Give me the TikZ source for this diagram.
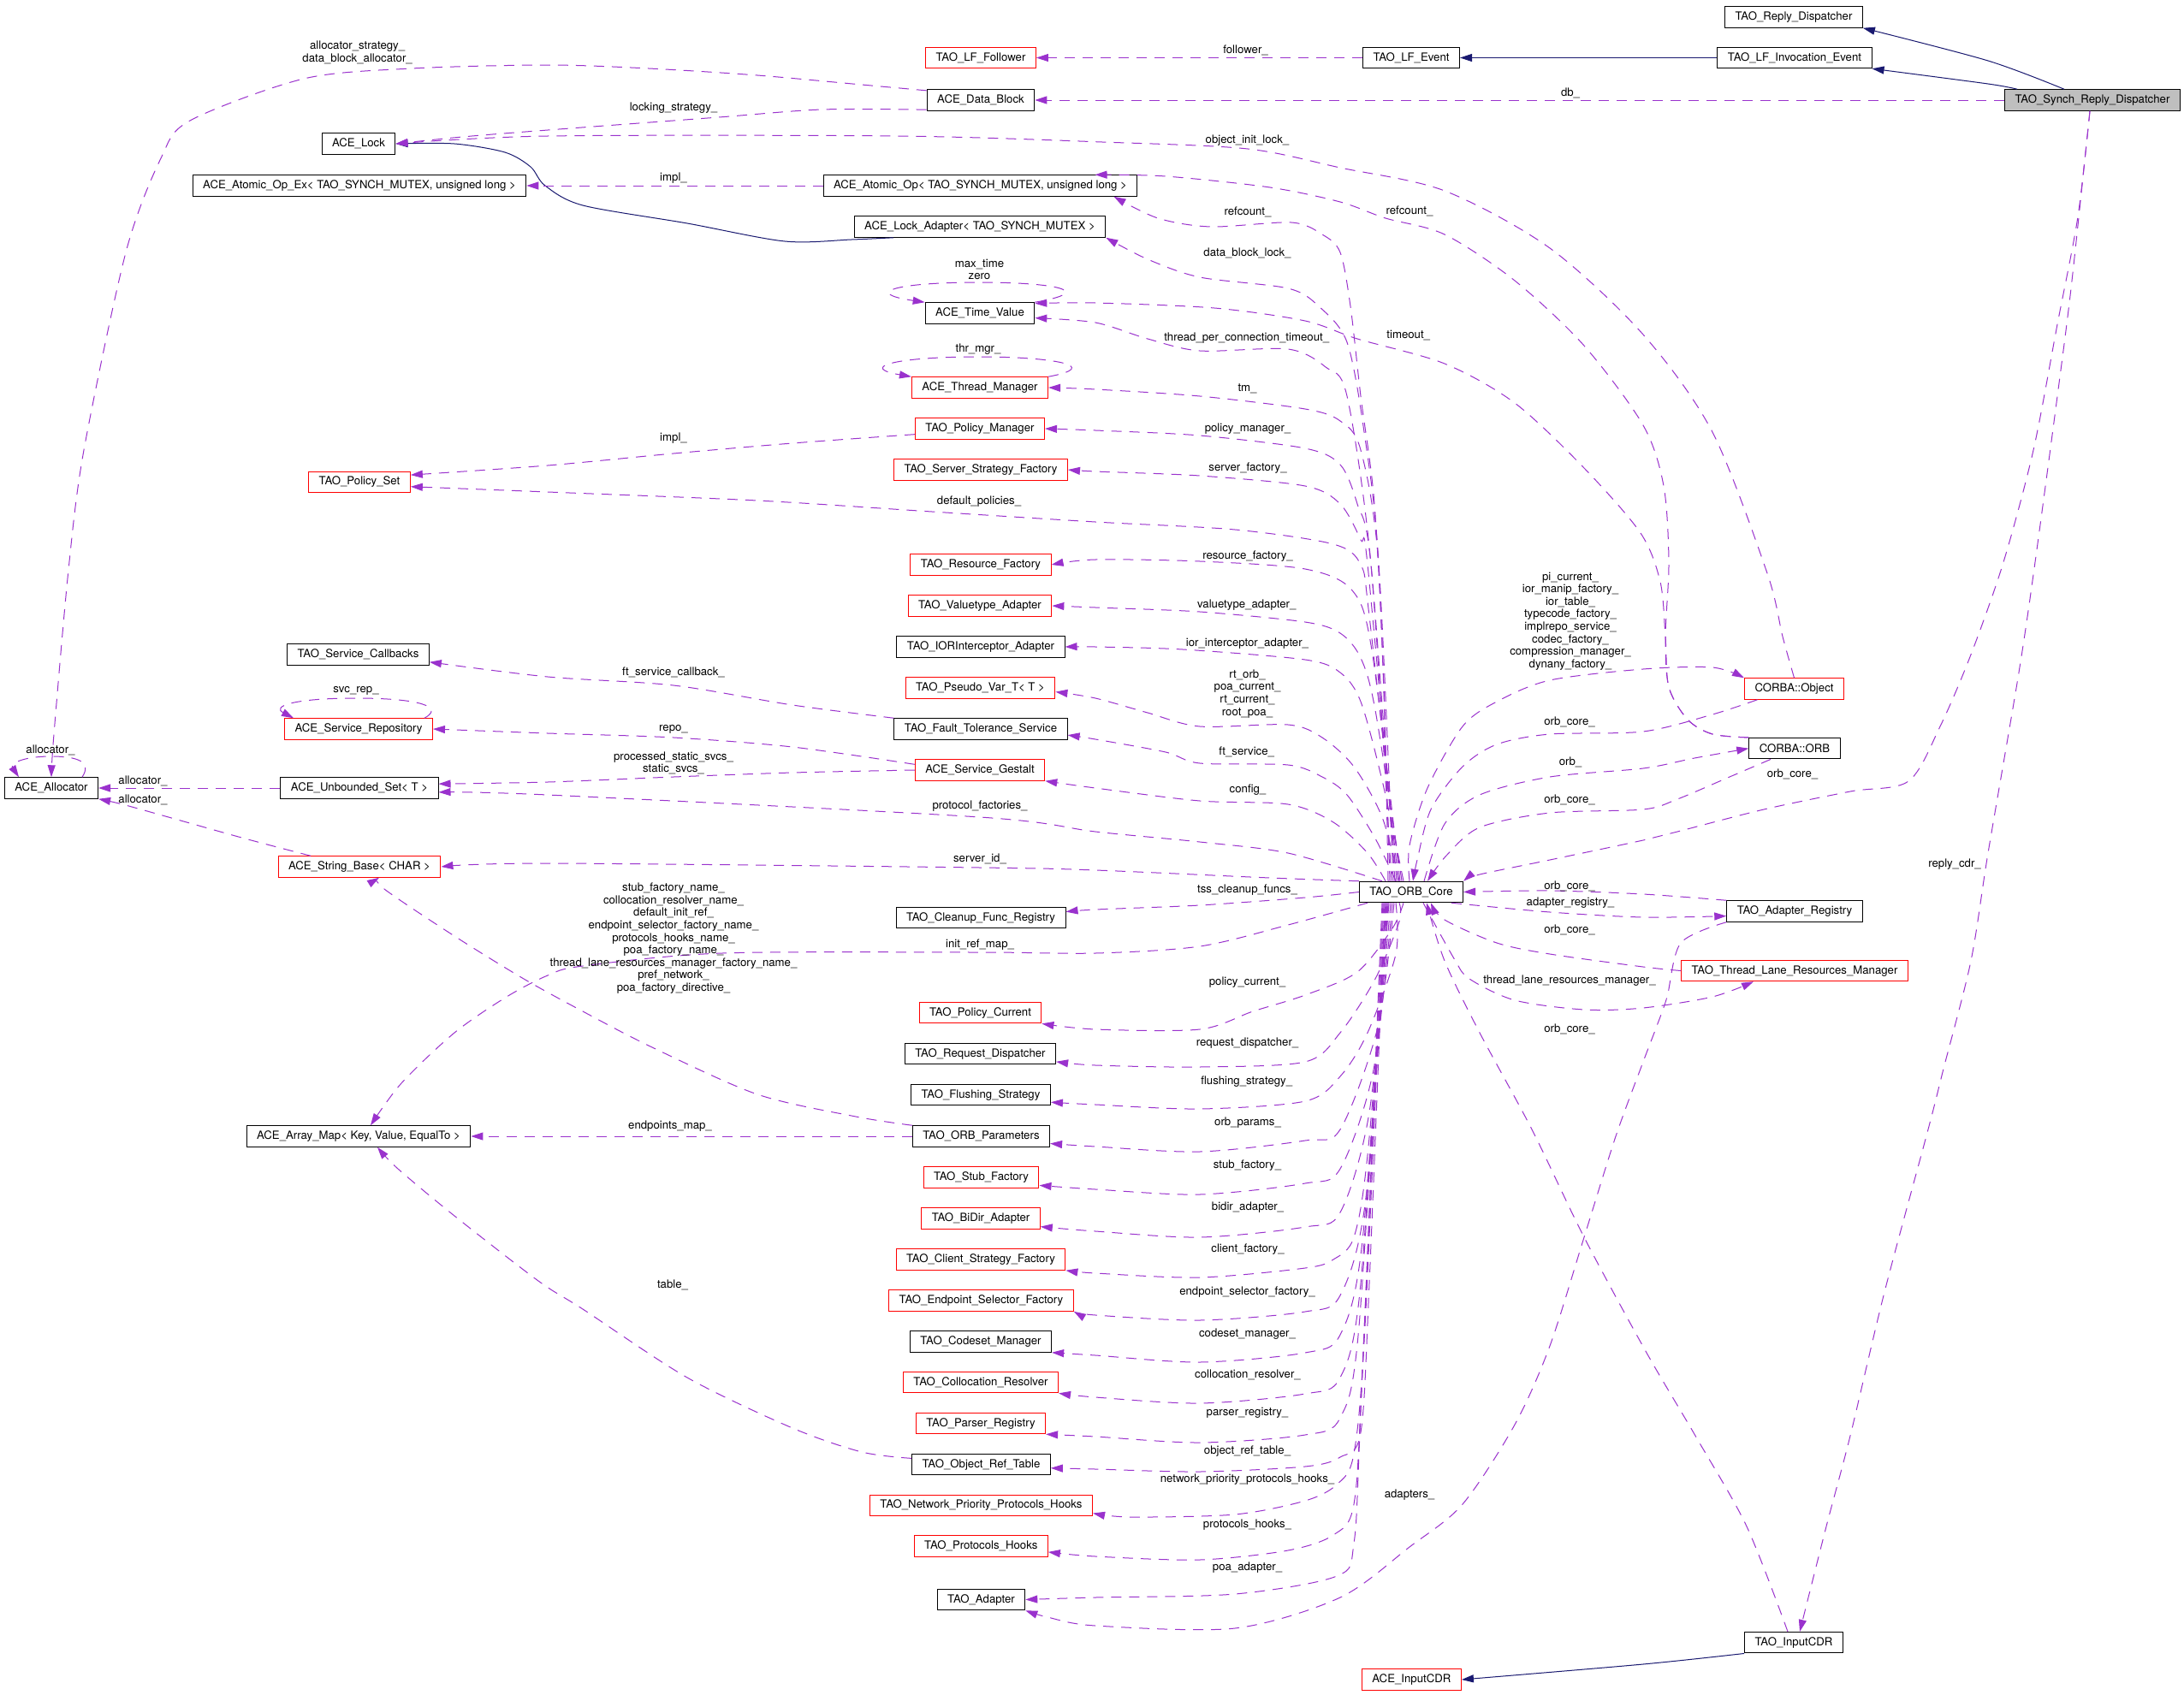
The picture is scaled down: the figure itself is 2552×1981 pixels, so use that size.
\documentclass[tikz,border=0pt]{standalone}
\usepackage{fontspec}
\setmainfont{TeX Gyre Heros}
\usetikzlibrary{arrows.meta}
\definecolor{depcol}{HTML}{9A32CD}
\definecolor{inhcol}{HTML}{191970}
\definecolor{curfill}{HTML}{BFBFBF}
\tikzset{
  cls/.style={draw=black, fill=white, line width=1pt, inner xsep=12pt, inner ysep=0pt,
    minimum height=24.5pt, font=\fontsize{13.2}{15}\selectfont},
  redcls/.style={cls, draw=red},
  curcls/.style={cls, fill=curfill},
  dep/.style={draw=depcol, line width=1pt, dash pattern=on 12pt off 9pt,
    -{Triangle[length=14pt,width=9pt]}},
  inh/.style={draw=inhcol, line width=1pt, -{Triangle[length=14pt,width=9pt]}},
  lbl/.style={inner sep=0pt, align=center, font=\fontsize{13.2}{14.6}\selectfont}
}
\begin{document}
\begin{tikzpicture}[x=1pt, y=-1pt]
\fill[white] (0,0) rectangle (2552,1981);
\useasboundingbox (0,0) rectangle (2552,1981);

% classes
\node[curcls] (srd) at (2445,117) {TAO\_Synch\_Reply\_Dispatcher};
\node[cls] (rd) at (2096,20) {TAO\_Reply\_Dispatcher};
\node[cls] (lfie) at (2097,67.5) {TAO\_LF\_Invocation\_Event};
\node[cls] (lfe) at (1649,67.5) {TAO\_LF\_Event};
\node[redcls] (lff) at (1146,67.5) {TAO\_LF\_Follower};
\node[cls] (db) at (1146,117) {ACE\_Data\_Block};
\node[cls] (lock) at (419,168) {ACE\_Lock};
\node[cls] (aopex) at (420,217) {ACE\_Atomic\_Op\_Ex< TAO\_SYNCH\_MUTEX, unsigned long >};
\node[cls] (aop) at (1145.5,217) {ACE\_Atomic\_Op< TAO\_SYNCH\_MUTEX, unsigned long >};
\node[cls] (ladapt) at (1145,265) {ACE\_Lock\_Adapter< TAO\_SYNCH\_MUTEX >};
\node[cls] (tv) at (1145,366) {ACE\_Time\_Value};
\node[redcls] (thrmgr) at (1145,453) {ACE\_Thread\_Manager};
\node[redcls] (polmgr) at (1145,501) {TAO\_Policy\_Manager};
\node[redcls] (ssf) at (1146,549) {TAO\_Server\_Strategy\_Factory};
\node[redcls] (polset) at (420,563.5) {TAO\_Policy\_Set};
\node[redcls] (resf) at (1146,660) {TAO\_Resource\_Factory};
\node[redcls] (vta) at (1145,708) {TAO\_Valuetype\_Adapter};
\node[cls] (iora) at (1146,756) {TAO\_IORInterceptor\_Adapter};
\node[redcls] (pvar) at (1145.5,804) {TAO\_Pseudo\_Var\_T< T >};
\node[cls] (fts) at (1146,852) {TAO\_Fault\_Tolerance\_Service};
\node[cls] (svccb) at (418.5,765) {TAO\_Service\_Callbacks};
\node[redcls] (svcrep) at (419,852) {ACE\_Service\_Repository};
\node[redcls] (gestalt) at (1145,900) {ACE\_Service\_Gestalt};
\node[cls] (alloc) at (60,921) {ACE\_Allocator};
\node[cls] (uset) at (420,921) {ACE\_Unbounded\_Set< T >};
\node[redcls] (strb) at (420,1013) {ACE\_String\_Base< CHAR >};
\node[cls] (core) at (1649,1042.5) {TAO\_ORB\_Core};
\node[cls] (cfr) at (1146,1072.6) {TAO\_Cleanup\_Func\_Registry};
\node[redcls] (polcur) at (1145.5,1183.6) {TAO\_Policy\_Current};
\node[cls] (reqd) at (1145.5,1231.5) {TAO\_Request\_Dispatcher};
\node[cls] (flush) at (1146,1279.6) {TAO\_Flushing\_Strategy};
\node[cls] (amap) at (419,1328) {ACE\_Array\_Map< Key, Value, EqualTo >};
\node[cls] (orbp) at (1146.5,1328) {TAO\_ORB\_Parameters};
\node[redcls] (stubf) at (1146.5,1375.8) {TAO\_Stub\_Factory};
\node[redcls] (bidir) at (1146,1423.8) {TAO\_BiDir\_Adapter};
\node[redcls] (csf) at (1146,1472) {TAO\_Client\_Strategy\_Factory};
\node[redcls] (esf) at (1146.5,1520) {TAO\_Endpoint\_Selector\_Factory};
\node[cls] (csm) at (1146,1568) {TAO\_Codeset\_Manager};
\node[redcls] (colr) at (1146,1615.6) {TAO\_Collocation\_Resolver};
\node[redcls] (parser) at (1146,1663.5) {TAO\_Parser\_Registry};
\node[cls] (ort) at (1146.5,1711.5) {TAO\_Object\_Ref\_Table};
\node[redcls] (npph) at (1146.5,1759.4) {TAO\_Network\_Priority\_Protocols\_Hooks};
\node[redcls] (phooks) at (1146.3,1807) {TAO\_Protocols\_Hooks};
\node[cls] (adapter) at (1146.5,1869.5) {TAO\_Adapter};
\node[redcls] (cobj) at (2096.5,805) {CORBA::Object};
\node[cls] (corb) at (2097,874.7) {CORBA::ORB};
\node[cls] (areg) at (2097,1065) {TAO\_Adapter\_Registry};
\node[redcls] (tlrm) at (2097,1134.5) {TAO\_Thread\_Lane\_Resources\_Manager};
\node[cls] (tcdr) at (2096,1919.7) {TAO\_InputCDR};
\node[redcls] (acdr) at (1649.4,1963) {ACE\_InputCDR};

% inheritance
\draw[inh] plot[smooth] coordinates {([xshift=-33pt]srd.north) (2323,71) (rd.south east)};
\draw[inh] plot[smooth] coordinates {([xshift=-88pt]srd.north) (2323,98) (lfie.south east)};
\draw[inh] (lfie.west) -- (lfe.east);
\draw[inh] plot[smooth] coordinates {([xshift=-101pt]ladapt.south) (995,280) (917,282) (803,261)
  (681,240) (637,217) (620,195) (590,178) (531,168) (lock.east)};
\draw[inh] plot[smooth] coordinates {(tcdr.south west) (1920,1945) (acdr.east)};

% members, top rows
\draw[dep] (lfe.west) -- (lff.east);
\draw[dep] (srd.west) -- (db.east);
\draw[dep] plot[smooth] coordinates {(db.170) (1007,99) (885,88) (758,80) (640,76) (481,80) (355,92)
  (222,141) (188,185) (147,295) (98,526) (80,666) (63,858) (alloc.north)};
\draw[dep] plot[smooth] coordinates {(db.190) (960,128) (840,137) (640,152) (540,160) (lock.east)};
\draw[dep] plot[smooth] coordinates {(cobj.north) (2083,744) (2065,670) (2001,505) (1920,391) (1811,290)
  (1688,223) (1566,196) (1458,174) (1288,166) (1048,159) (640,159) (lock.east)};
\draw[dep] plot[smooth] coordinates {(corb.north west) (2001,858) (1972,841) (1950,803) (1946,744)
  (1950,657) (1944,568) (1920,497) (1851,404) (1770,328) (1688,274) (1619,255) (1566,236) (1484,219)
  (1362,206) ([xshift=134pt]aop.north)};
\draw[dep] plot[smooth] coordinates {(corb.north west) (2001,858) (1972,841) (1950,803) (1946,744)
  (1940,680) (1917,623) (1851,547) (1770,471) (1688,425) (1586,396) (1525,375) (1419,360) (1280,354)
  (tv.10)};
\draw[dep] (aop.west) -- (aopex.east);
\draw[dep] plot[smooth] coordinates {(polmgr.185) (926,518) (787,530) (640,544) (polset.8)};
\draw[dep] plot[smooth] coordinates {(fts.north west) (926,824) (787,801) (640,791) (svccb.-6)};
\draw[dep] plot[smooth] coordinates {(gestalt.175) (926,873) (787,862) (640,857) (svcrep.east)};
\draw[dep] plot[smooth] coordinates {(gestalt.west) (926,903) (787,908) (640,914) (uset.3)};
\draw[dep] (uset.west) -- (alloc.east);
\draw[dep] plot[smooth] coordinates {([xshift=-57pt]strb.north) (286,980) (204,957) (143,940)
  (alloc.south east)};
\draw[dep] plot[smooth] coordinates {(orbp.north west) (1000,1305) (885,1279) (762,1224) (681,1182)
  (612,1144) (531,1094) (449,1039) ([xshift=23pt]strb.south)};
\draw[dep] (orbp.west) -- (amap.east);
\draw[dep] plot[smooth] coordinates {(ort.175) (1007,1697) (926,1669) (803,1610) (681,1530) (629,1497)
  (531,1421) (465,1366) ([xshift=22pt]amap.south)};

% self loops
\draw[dep] ([xshift=36pt]alloc.north) .. controls (108,890) and (90,884) .. (60,884)
  .. controls (25,884) and (12,893) .. ([xshift=-38pt]alloc.north);
\draw[dep] ([xshift=77pt]svcrep.north) .. controls (520,826) and (490,816) .. (416,816)
  .. controls (340,816) and (318,826) .. ([xshift=-76pt]svcrep.north);
\draw[dep] (tv.north east) .. controls (1285,340) and (1230,330) .. (1145,330)
  .. controls (1040,330) and (1010,343) .. (tv.north west);
\draw[dep] (thrmgr.north east) .. controls (1290,428) and (1230,417) .. (1145,417)
  .. controls (1040,417) and (1005,430) .. (thrmgr.north west);

% TAO_ORB_Core, upper fan
\draw[dep] plot[smooth] coordinates {([xshift=-27pt]core.north) (1617,800) (1606,589) (1590,463)
  (1578,358) (1566,295) (1545,274) (1509,260) (1415,265) (1353,255) ([xshift=156pt]aop.south)};
\draw[dep] plot[smooth] coordinates {([xshift=-25pt]core.north) (1611,660) (1594,505) (1574,400)
  (1541,358) (1505,337) (1402,324) (1341,303) (ladapt.south east)};
\draw[dep] plot[smooth] coordinates {([xshift=-23pt]core.north) (1602,660) (1574,463) (1549,429)
  (1505,408) (1402,410) (1341,396) (1280,377) (tv.-5)};
\draw[dep] plot[smooth] coordinates {([xshift=-21pt]core.north) (1611,660) (1590,526) (1566,492)
  (1525,478) (1402,463) (1280,455) (thrmgr.east)};
\draw[dep] plot[smooth] coordinates {([xshift=-19pt]core.north) (1602,660) (1586,589) (1566,543)
  (1525,524) (1402,509) (1280,503) (polmgr.east)};
\draw[dep] plot[smooth] coordinates {([xshift=-17pt]core.north) (1598,660) (1590,631) (1566,589)
  (1525,568) (1402,556) (1280,551) (ssf.east)};
\draw[dep] plot[smooth] coordinates {([xshift=-15pt]core.north) (1600,720) (1590,660) (1558,636)
  (1443,619) (1280,610) (1089,598) (885,585) (640,575) (polset.-5)};
\draw[dep] plot[smooth] coordinates {([xshift=-13pt]core.north) (1603,760) (1580,690) (1525,665)
  (1402,656) (1280,654) (resf.east)};
\draw[dep] plot[smooth] coordinates {([xshift=-11pt]core.north) (1607,830) (1590,769) (1566,740)
  (1525,727) (1402,715) (1280,710) (vta.east)};
\draw[dep] plot[smooth] coordinates {([xshift=-9pt]core.north) (1615,912) (1590,820) (1566,786)
  (1525,771) (1382,759) (1280,756) (iora.east)};
\draw[dep] plot[smooth] coordinates {([xshift=-14pt]core.north) (1615,955) (1582,896) (1545,862)
  (1505,847) (1402,849) (1341,833) (1280,816) (pvar.-3)};
\draw[dep] plot[smooth] coordinates {([xshift=-18pt]core.north) (1607,980) (1574,929) (1545,908)
  (1505,894) (1402,892) (1362,879) (1280,864) (fts.-4)};
\draw[dep] plot[smooth] coordinates {([xshift=-30pt]core.north) (1598,997) (1558,961) (1505,940)
  (1402,936) (1280,921) (gestalt.south east)};
\draw[dep] plot[smooth] coordinates {([xshift=-34pt]core.north) (1505,997) (1402,984) (1280,972)
  (1145,955) (640,929) (uset.-3)};
\draw[dep] plot[smooth] coordinates {(core.north west) (1484,1026) (1280,1017) (1145,1014) (640,1009)
  (strb.east)};
\draw[dep] plot[smooth] coordinates {(core.west) (1525,1049) (1402,1058) (1280,1063) (cfr.4)};
\draw[dep] plot[smooth] coordinates {([xshift=-51pt]core.south) (1505,1081) (1402,1106) (1280,1114)
  (1145,1113) (844,1114) (681,1129) (640,1140) (592,1165) (531,1207) (469,1266)
  ([xshift=14pt]amap.north)};

% TAO_ORB_Core, lower fan
\draw[dep] plot[smooth] coordinates {([xshift=-9pt]core.south) (1627,1085) (1586,1136) (1525,1163)
  (1464,1182) (1402,1203) (1280,1203) (polcur.south east)};
\draw[dep] plot[smooth] coordinates {([xshift=-14pt]core.south) (1635,1077) (1607,1144) (1566,1207)
  (1525,1241) (1402,1247) (1280,1245) (reqd.-6)};
\draw[dep] plot[smooth] coordinates {([xshift=-18pt]core.south) (1631,1115) (1598,1207) (1566,1258)
  (1525,1287) (1402,1296) (1280,1291) (flush.-6)};
\draw[dep] plot[smooth] coordinates {([xshift=-20pt]core.south) (1610,1200) (1566,1320) (1525,1333)
  (1402,1346) (1280,1340) (orbp.-6)};
\draw[dep] plot[smooth] coordinates {([xshift=-22pt]core.south) (1605,1250) (1566,1366) (1525,1383)
  (1402,1396) (1280,1390) (stubf.-8)};
\draw[dep] plot[smooth] coordinates {([xshift=-24pt]core.south) (1600,1300) (1566,1417) (1525,1434)
  (1402,1446) (1280,1439) (bidir.-8)};
\draw[dep] plot[smooth] coordinates {([xshift=-26pt]core.south) (1598,1350) (1582,1446) (1558,1472)
  (1525,1482) (1402,1493) (1280,1488) (csf.south east)};
\draw[dep] plot[smooth] coordinates {([xshift=-27pt]core.south) (1596,1400) (1566,1514) (1525,1533)
  (1402,1543) (1280,1537) (esf.south east)};
\draw[dep] plot[smooth] coordinates {([xshift=-28pt]core.south) (1592,1450) (1566,1560) (1525,1581)
  (1402,1592) (1280,1584) (csm.south east)};
\draw[dep] plot[smooth] coordinates {([xshift=-29pt]core.south) (1590,1500) (1566,1610) (1525,1629)
  (1402,1640) (1280,1633) (colr.south east)};
\draw[dep] plot[smooth] coordinates {([xshift=-30pt]core.south) (1588,1550) (1566,1657) (1525,1677)
  (1402,1686) (1280,1679) (parser.south east)};
\draw[dep] plot[smooth] coordinates {([xshift=-31pt]core.south) (1600,1500) (1590,1674) (1566,1703)
  (1525,1714) (1402,1720) (1280,1717) (ort.-3)};
\draw[dep] plot[smooth] coordinates {([xshift=-32pt]core.south) (1595,1550) (1582,1699) (1562,1735)
  (1525,1754) (1443,1770) (1321,1773) (npph.-4)};
\draw[dep] plot[smooth] coordinates {([xshift=-33pt]core.south) (1592,1600) (1582,1758) (1558,1794)
  (1505,1812) (1402,1823) (1280,1819) (phooks.-5)};
\draw[dep] plot[smooth] coordinates {([xshift=-34pt]core.south) (1590,1650) (1582,1804) (1562,1842)
  (1443,1863) (1280,1867) (adapter.east)};

% right side
\draw[dep] plot[smooth] coordinates {([xshift=-43pt]cobj.south) (2001,835) (1920,855) (1811,858)
  (1749,870) (1709,896) (1672,946) (1656,1005) ([xshift=2pt]core.north)};
\draw[dep] plot[smooth] coordinates {([xshift=-2pt]core.north) (1647,988) (1668,921) (1709,849)
  (1749,820) (1811,795) (1920,782) (2001,780) (cobj.north west)};
\draw[dep] plot[smooth] coordinates {([xshift=15pt]core.north) (1688,963) (1729,929) (1811,908)
  (1920,898) (1980,886) (corb.west)};
\draw[dep] plot[smooth] coordinates {([xshift=-28pt]corb.south) (2021,908) (1960,934) (1920,946)
  (1811,950) (1729,967) (1690,1000) ([xshift=19pt]core.north)};
\draw[dep] plot[smooth] coordinates {([xshift=-3pt]srd.south) (2428,253) (2404,379) (2376,526)
  (2341,657) (2303,765) (2267,849) (2230,913) (2162,925) (2061,946) (1960,972) (1920,982)
  (1811,1005) (1729,1022) (core.north east)};
\draw[dep] plot[smooth] coordinates {([xshift=-3pt]srd.south) (2438,168) (2420,337) (2404,463)
  (2378,657) (2359,786) (2323,997) (2303,1123) (2271,1249) (2253,1320) (2202,1510) (2162,1678)
  (2134,1784) ([xshift=7pt]tcdr.north)};
\draw[dep] plot[smooth] coordinates {(areg.north west) (1920,1045) (1811,1041) (core.east)};
\draw[dep] plot[smooth] coordinates {([xshift=47pt]core.south) (1811,1066) (1920,1072) (areg.184)};
\draw[dep] plot[smooth] coordinates {(tlrm.west) (1920,1130) (1811,1115) (1749,1102) (1688,1075)
  ([xshift=23pt]core.south)};
\draw[dep] plot[smooth] coordinates {([xshift=14pt]core.south) (1700,1122) (1717,1144) (1770,1169)
  (1851,1180) (1920,1178) (2001,1165) ([xshift=-48pt]tlrm.south)};
\draw[dep] plot[smooth] coordinates {([xshift=-7pt]tcdr.north) (2041,1784) (1981,1678) (1924,1581)
  (1851,1446) (1790,1320) (1729,1207) (1688,1123) ([xshift=18pt]core.south)};
\draw[dep] plot[smooth] coordinates {(areg.south west) (1964,1102) (1948,1165) (1936,1199) (1920,1241)
  (1888,1328) (1851,1446) (1811,1573) (1770,1665) (1709,1758) (1647,1808) (1566,1867) (1443,1903)
  (1280,1900) (1224,1890) (adapter.south east)};

% labels
\node[lbl] (l-follower) at (1455.5,59.3) {follower\_};
\node[lbl] (l-db) at (1835,108.6) {db\_};
\node[lbl] (l-alloc) at (417.6,61.5) {allocator\_strategy\_\\data\_block\_allocator\_};
\node[lbl] (l-lockstr) at (787,126) {locking\_strategy\_};
\node[lbl] (l-objlock) at (1457.5,164.6) {object\_init\_lock\_};
\node[lbl] (l-impl1) at (787,208) {impl\_};
\node[lbl] (l-ref1) at (1458,248) {refcount\_};
\node[lbl] (l-ref2) at (1647,246.6) {refcount\_};
\node[lbl] (l-dbl) at (1457.5,296) {data\_block\_lock\_};
\node[lbl] (l-maxtime) at (1144.5,315) {max\_time\\zero};
\node[lbl] (l-tpct) at (1456.7,395.6) {thread\_per\_connection\_timeout\_};
\node[lbl] (l-timeout) at (1645.7,392) {timeout\_};
\node[lbl] (l-thrmgr) at (1143,408) {thr\_mgr\_};
\node[lbl] (l-tm) at (1457.5,454.5) {tm\_};
\node[lbl] (l-polmgr) at (1458,500.8) {policy\_manager\_};
\node[lbl] (l-impl2) at (787,512) {impl\_};
\node[lbl] (l-ssf) at (1458,547.6) {server\_factory\_};
\node[lbl] (l-defpol) at (1144,586) {default\_policies\_};
\node[lbl] (l-resf) at (1458,650) {resource\_factory\_};
\node[lbl] (l-vta) at (1456.7,707.6) {valuetype\_adapter\_};
\node[lbl] (l-iora) at (1457.5,752) {ior\_interceptor\_adapter\_};
\node[lbl] (l-objs) at (1835,726) {pi\_current\_\\ior\_manip\_factory\_\\ior\_table\_\\typecode\_factory\_\\implrepo\_service\_\\codec\_factory\_\\compression\_manager\_\\dynany\_factory\_};
\node[lbl] (l-ftcb) at (787,786) {ft\_service\_callback\_};
\node[lbl] (l-svcrep) at (416,807) {svc\_rep\_};
\node[lbl] (l-pvar) at (1457.5,810.8) {rt\_orb\_\\poa\_current\_\\rt\_current\_\\root\_poa\_};
\node[lbl] (l-oc1) at (1834,844) {orb\_core\_};
\node[lbl] (l-repo) at (787,852.8) {repo\_};
\node[lbl] (l-fts) at (1456.7,878.4) {ft\_service\_};
\node[lbl] (l-alself) at (59,876.7) {allocator\_};
\node[lbl] (l-static) at (787,891.7) {processed\_static\_svcs\_\\static\_svcs\_};
\node[lbl] (l-orb) at (1835,890.6) {orb\_};
\node[lbl] (l-oc2) at (2094.5,904.5) {orb\_core\_};
\node[lbl] (l-al1) at (167,912.5) {allocator\_};
\node[lbl] (l-config) at (1458,923.5) {config\_};
\node[lbl] (l-oc3) at (1834,934.4) {orb\_core\_};
\node[lbl] (l-al2) at (167,934.4) {allocator\_};
\node[lbl] (l-protf) at (1145,942.4) {protocol\_factories\_};
\node[lbl] (l-srvid) at (1145,1003.4) {server\_id\_};
\node[lbl] (l-rcdr) at (2284,1010.6) {reply\_cdr\_};
\node[lbl] (l-oc4) at (1834,1035.4) {orb\_core\_};
\node[lbl] (l-tss) at (1457.5,1040.5) {tss\_cleanup\_funcs\_};
\node[lbl] (l-areg) at (1835,1055.6) {adapter\_registry\_};
\node[lbl] (l-oc5) at (1834,1086.4) {orb\_core\_};
\node[lbl] (l-names) at (787,1096.7) {stub\_factory\_name\_\\collocation\_resolver\_name\_\\default\_init\_ref\_\\endpoint\_selector\_factory\_name\_\\protocols\_hooks\_name\_\\poa\_factory\_name\_\\thread\_lane\_resources\_manager\_factory\_name\_\\pref\_network\_\\poa\_factory\_directive\_};
\node[lbl] (l-irm) at (1145,1103.6) {init\_ref\_map\_};
\node[lbl] (l-tlrm) at (1834,1146) {thread\_lane\_resources\_manager\_};
\node[lbl] (l-polcur) at (1457.5,1148.2) {policy\_current\_};
\node[lbl] (l-oc6) at (1834,1203.3) {orb\_core\_};
\node[lbl] (l-reqd) at (1457.5,1219.3) {request\_dispatcher\_};
\node[lbl] (l-flush) at (1456.7,1264.4) {flushing\_strategy\_};
\node[lbl] (l-orbp) at (1458,1312.4) {orb\_params\_};
\node[lbl] (l-epmap) at (783,1316.6) {endpoints\_map\_};
\node[lbl] (l-stubf) at (1457.5,1362) {stub\_factory\_};
\node[lbl] (l-bidir) at (1458,1411.3) {bidir\_adapter\_};
\node[lbl] (l-csf) at (1458,1460) {client\_factory\_};
\node[lbl] (l-table) at (786,1502) {table\_};
\node[lbl] (l-esf) at (1457.5,1510) {endpoint\_selector\_factory\_};
\node[lbl] (l-csm) at (1457.5,1559) {codeset\_manager\_};
\node[lbl] (l-colr) at (1458,1607) {collocation\_resolver\_};
\node[lbl] (l-parser) at (1457.5,1651) {parser\_registry\_};
\node[lbl] (l-ort) at (1457.5,1695.8) {object\_ref\_table\_};
\node[lbl] (l-npph) at (1457.5,1729.5) {network\_priority\_protocols\_hooks\_};
\node[lbl] (l-adapters) at (1647,1747) {adapters\_};
\node[lbl] (l-phooks) at (1457.5,1781.7) {protocols\_hooks\_};
\node[lbl] (l-poa) at (1457.5,1831.8) {poa\_adapter\_};
\end{tikzpicture}
\end{document}
